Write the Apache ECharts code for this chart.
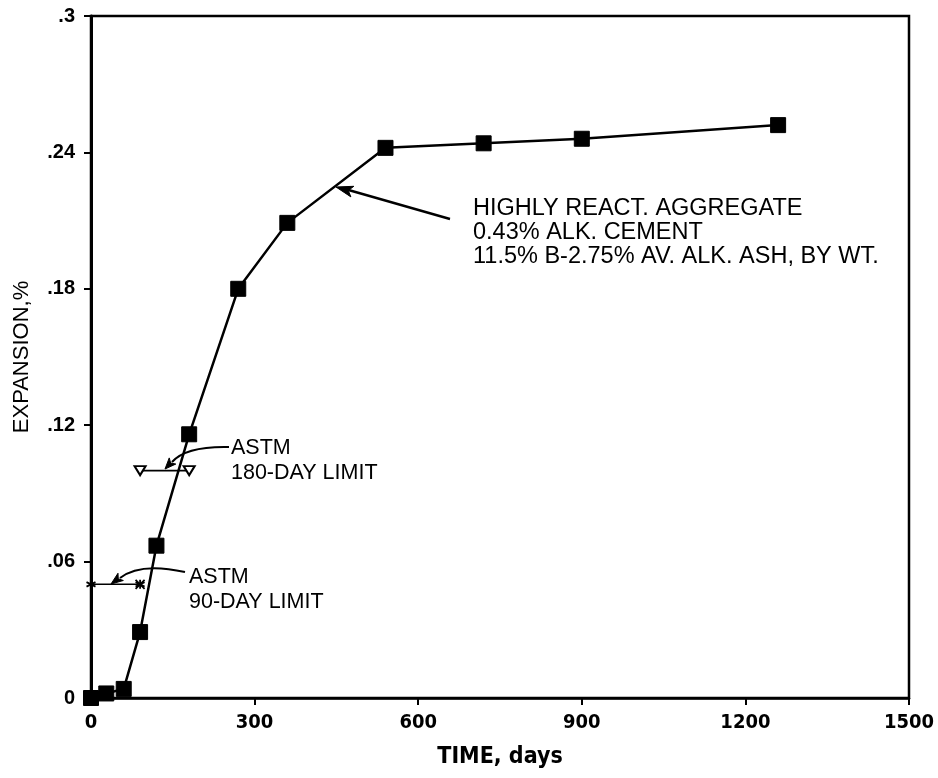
<!DOCTYPE html>
<html><head><meta charset="utf-8">
<script src="https://cdn.jsdelivr.net/npm/echarts@6/dist/echarts.min.js"></script>
<style>html,body{margin:0;padding:0;background:#fff}#c{width:938px;height:778px}</style>
</head><body><div id="c"></div>
<script>
// ---- data ----
const timeDays = [0, 28, 60, 90, 120, 180, 270, 360, 540, 720, 900, 1260];
const expansion = [0, 0.002, 0.004, 0.029, 0.067, 0.116, 0.180, 0.209, 0.242, 0.244, 0.246, 0.252];
const limit90Days = [0, 90];
const limit90Values = [0.05, 0.05];
const limit180Days = [90, 180];
const limit180Values = [0.10, 0.10];
const xTickLabels = ['0', '300', '600', '900', '1200', '1500'];
const yTickLabels = ['0', '.06', '.12', '.18', '.24', '.3'];
const mainLabel = ['HIGHLY REACT. AGGREGATE', '0.43% ALK. CEMENT', '11.5% B-2.75% AV. ALK. ASH, BY WT.'];
const label180 = ['ASTM', '180-DAY LIMIT'];
const label90 = ['ASTM', '90-DAY LIMIT'];

const zip = (xs, ys) => xs.map((x, i) => [x, ys[i]]);

const chart = echarts.init(document.getElementById('c'), null, {renderer: 'canvas'});
const SANS = '"Liberation Sans", Arial, Helvetica, sans-serif';
const NARROW = '"Liberation Sans Narrow", "DejaVu Sans Condensed", sans-serif';

function arrowHead(tipX, tipY, fromX, fromY, len, half) {
  const dx = tipX - fromX, dy = tipY - fromY;
  const d = Math.hypot(dx, dy);
  const ux = dx / d, uy = dy / d;
  const px = -uy, py = ux;
  const bx = tipX - ux * len, by = tipY - uy * len;
  const nx = tipX - ux * len * 0.75, ny = tipY - uy * len * 0.75;
  return {
    type: 'polygon', z: 100,
    shape: {points: [[tipX, tipY], [bx + px * half, by + py * half], [nx, ny], [bx - px * half, by - py * half]]},
    style: {fill: '#000', stroke: '#000', lineWidth: 1}
  };
}
function txt(x, y, s, size) {
  return {type: 'text', z: 100, style: {x: x, y: y, text: s, font: size + 'px ' + SANS, fill: '#000', verticalAlign: 'middle', align: 'left'}};
}

const graphics = [];
// main label
mainLabel.forEach((s, i) => graphics.push(txt(473, 209 + i * 24, s, 23.5)));
graphics.push({type: 'line', z: 100, shape: {x1: 450, y1: 219, x2: 345, y2: 189}, style: {stroke: '#000', lineWidth: 2.5}});
graphics.push(arrowHead(336, 187, 450, 219, 17, 5.5));
// 180-day label
label180.forEach((s, i) => graphics.push(txt(231, 448 + i * 25, s, 21.5)));
graphics.push({type: 'bezierCurve', z: 100, shape: {x1: 229, y1: 447, cpx1: 186, cpy1: 446, x2: 172, y2: 462}, style: {stroke: '#000', lineWidth: 2, fill: null}});
graphics.push(arrowHead(165, 469, 180, 453, 11, 4.5));
// 90-day label
label90.forEach((s, i) => graphics.push(txt(189, 577 + i * 25, s, 21.5)));
graphics.push({type: 'bezierCurve', z: 100, shape: {x1: 185, y1: 572, cpx1: 140, cpy1: 562, x2: 120, y2: 578}, style: {stroke: '#000', lineWidth: 2, fill: null}});
graphics.push(arrowHead(111, 584, 130, 570, 12, 4.5));

chart.setOption({
  animation: false,
  backgroundColor: '#fff',
  grid: {left: 91, right: 29, top: 16, bottom: 80, show: true, borderColor: '#000', borderWidth: 2.5, backgroundColor: 'transparent'},
  xAxis: {
    type: 'value', min: 0, max: 1500, interval: 300,
    axisLine: {lineStyle: {color: '#000', width: 2.5}},
    axisTick: {inside: false, length: 7, lineStyle: {color: '#000', width: 2}},
    axisLabel: {color: '#000', fontFamily: NARROW, fontWeight: 'bold', fontSize: 20, margin: 15,
      formatter: v => xTickLabels[Math.round(v / 300)]},
    splitLine: {show: false},
    name: 'TIME, days', nameLocation: 'middle', nameGap: 48,
    nameTextStyle: {color: '#000', fontFamily: NARROW, fontWeight: 'bold', fontSize: 23}
  },
  yAxis: {
    type: 'value', min: 0, max: 0.3, interval: 0.06,
    axisLine: {lineStyle: {color: '#000', width: 3}},
    axisTick: {inside: false, length: 7, lineStyle: {color: '#000', width: 2}},
    axisLabel: {color: '#000', fontFamily: SANS, fontWeight: 'bold', fontSize: 20, margin: 16,
      formatter: v => yTickLabels[Math.round(v / 0.06)]},
    splitLine: {show: false},
    name: 'EXPANSION,%', nameLocation: 'middle', nameGap: 58,
    nameTextStyle: {color: '#000', fontFamily: SANS, fontSize: 22}
  },
  series: [
    {
      type: 'line', data: zip(limit90Days, limit90Values), z: 3,
      lineStyle: {color: '#000', width: 1.5},
      symbol: 'path://M0,-10L0,10M-8.66,-5L8.66,5M-8.66,5L8.66,-5', symbolSize: 9,
      itemStyle: {color: '#000', borderColor: '#000', borderWidth: 1.8}
    },
    {
      type: 'line', data: [zip(limit90Days, limit90Values)[1]], z: 3,
      lineStyle: {width: 0},
      symbol: 'path://M-1,-1L1,1M-1,1L1,-1', symbolSize: 9,
      itemStyle: {color: '#000', borderColor: '#000', borderWidth: 1.8}
    },
    {
      type: 'line', data: zip(limit180Days, limit180Values), z: 3,
      lineStyle: {color: '#000', width: 1.8},
      symbol: 'triangle', symbolRotate: 180, symbolSize: [11, 9],
      itemStyle: {color: '#fff', borderColor: '#000', borderWidth: 2}
    },
    {
      type: 'line', data: zip(timeDays, expansion), z: 5,
      lineStyle: {color: '#000', width: 2.5},
      symbol: 'rect', symbolSize: 15,
      itemStyle: {color: '#000', borderColor: '#000', borderWidth: 1}
    }
  ],
  graphic: graphics
});
</script>
</body></html>
